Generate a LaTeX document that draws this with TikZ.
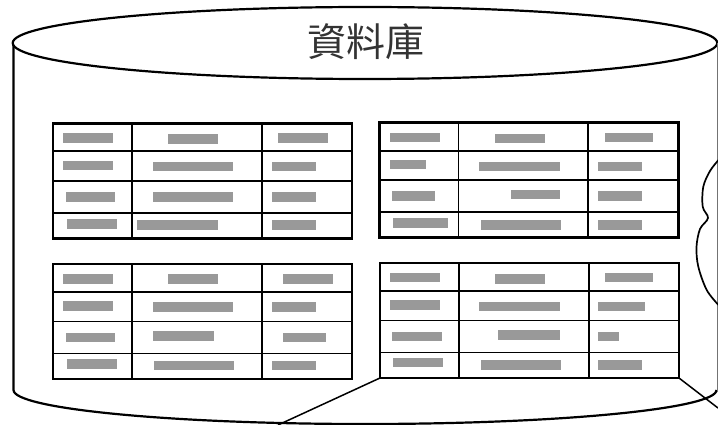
\documentclass[tikz,border=0pt]{standalone}
\usepackage{fontspec}
\newfontfamily\cjk{Noto Sans CJK TC}
\definecolor{bargray}{RGB}{153,153,153}
\tikzset{
  outline/.style={draw=black, line width=2.2pt},
  tablebox/.style={draw=black, line width=2.9pt, minimum width=299pt, minimum height=115pt, anchor=north west, inner sep=0pt, outer sep=0pt},
  gridline/.style={draw=black, line width=1.7pt},
  callout/.style={draw=black, line width=1.5pt},
  barfill/.style={fill=bargray, draw=none},
}
\newcommand\tablegrid[2]{%
  \begin{scope}[shift={(#1,#2)}]
    \draw[gridline] (79,0) -- (79,115) (208.7,0) -- (208.7,115);
    \draw[gridline] (0,28) -- (299,28) (0,57.5) -- (299,57.5) (0,89.5) -- (299,89.5);
  \end{scope}}
\newcommand\gbar[3]{\fill[barfill] (#1,#3) rectangle (#2,#3+9.5);}
\begin{document}
\begin{tikzpicture}[x=1pt,y=-1pt]
\useasboundingbox (0,0) rectangle (718,425);
% cylinder
\draw[outline] (365,43) ellipse [x radius=352.3pt, y radius=36pt];
\draw[outline] (13.5,45) -- (13.5,390) arc[start angle=180, end angle=360, x radius=351.5pt, y radius=34pt];
\draw[draw=black!55, line width=0.8pt] (717.6,43) -- (717.6,392);
\node[font=\cjk\fontsize{39}{39}\selectfont, text=black!80, inner sep=0pt] (title) at (366,42) {資料庫};
% tables
\node[tablebox] (tl) at (53,123.3) {};
\node[tablebox] (tr) at (379.5,122.8) {};
\node[tablebox] (bl) at (53,264) {};
\node[tablebox] (br) at (380,263) {};
\tablegrid{53}{123.3}
\tablegrid{379.5}{122.8}
\tablegrid{53}{264}
\tablegrid{380}{263}
% bars TL
\gbar{63.3}{113.3}{133.3}\gbar{168.3}{218.3}{134.3}\gbar{278.3}{328.3}{133.3}
\gbar{63.3}{113.3}{160.7}\gbar{153.3}{233.3}{161.7}\gbar{272.3}{315.7}{161.7}
\gbar{65.7}{115}{192.3}\gbar{153.3}{233.3}{192.3}\gbar{272.3}{315.7}{192.3}
\gbar{66.7}{117.3}{219.3}\gbar{137.3}{218.3}{220}\gbar{272.3}{315.7}{220}
% bars TR
\gbar{390}{440}{132.7}\gbar{495}{545}{134}\gbar{605}{653.3}{132.7}
\gbar{390}{426}{160}\gbar{479.3}{560}{161.7}\gbar{598.3}{641.7}{161.7}
\gbar{392.3}{435}{191.3}\gbar{511}{560}{190}\gbar{598.3}{641.7}{191.3}
\gbar{393.3}{447.7}{218.3}\gbar{481}{561}{220}\gbar{598.3}{641.7}{220}
% bars BL
\gbar{63.3}{113.3}{274}\gbar{168.3}{218.3}{274}\gbar{283.3}{333.3}{274}
\gbar{63.3}{113.3}{301}\gbar{153.3}{233.3}{302.3}\gbar{272.3}{315.7}{302.3}
\gbar{65.7}{115}{332.7}\gbar{153.3}{214}{331.3}\gbar{283.3}{326}{332.7}
\gbar{66.7}{117.3}{359.3}\gbar{154.3}{234.3}{360.7}\gbar{272.3}{315.7}{360.7}
% bars BR
\gbar{390}{440}{272.7}\gbar{495}{545}{274}\gbar{605}{653.3}{272.7}
\gbar{390}{440}{300}\gbar{479.3}{560}{301.7}\gbar{598.3}{645}{301.7}
\gbar{392.3}{441.7}{331.7}\gbar{498.3}{560}{330}\gbar{598.3}{619.3}{331.7}
\gbar{393.3}{443.3}{357.7}\gbar{481}{561}{360}\gbar{598.3}{641.7}{360}
% cloud edge
\draw[line width=1.7pt, line join=round] plot[smooth, tension=0.55] coordinates {(718.5,160) (710,171) (703.3,186.7) (702.7,206.7) (708,218) (700,229) (696.5,247) (698.3,266.7) (706.7,290) (718.5,305)};
% callout lines
\coordinate (cl) at (278,425);
\coordinate (cr) at (718,408);
\draw[callout] (br.south west) -- (cl);
\draw[callout] (br.south east) -- (cr);
\end{tikzpicture}
\end{document}
